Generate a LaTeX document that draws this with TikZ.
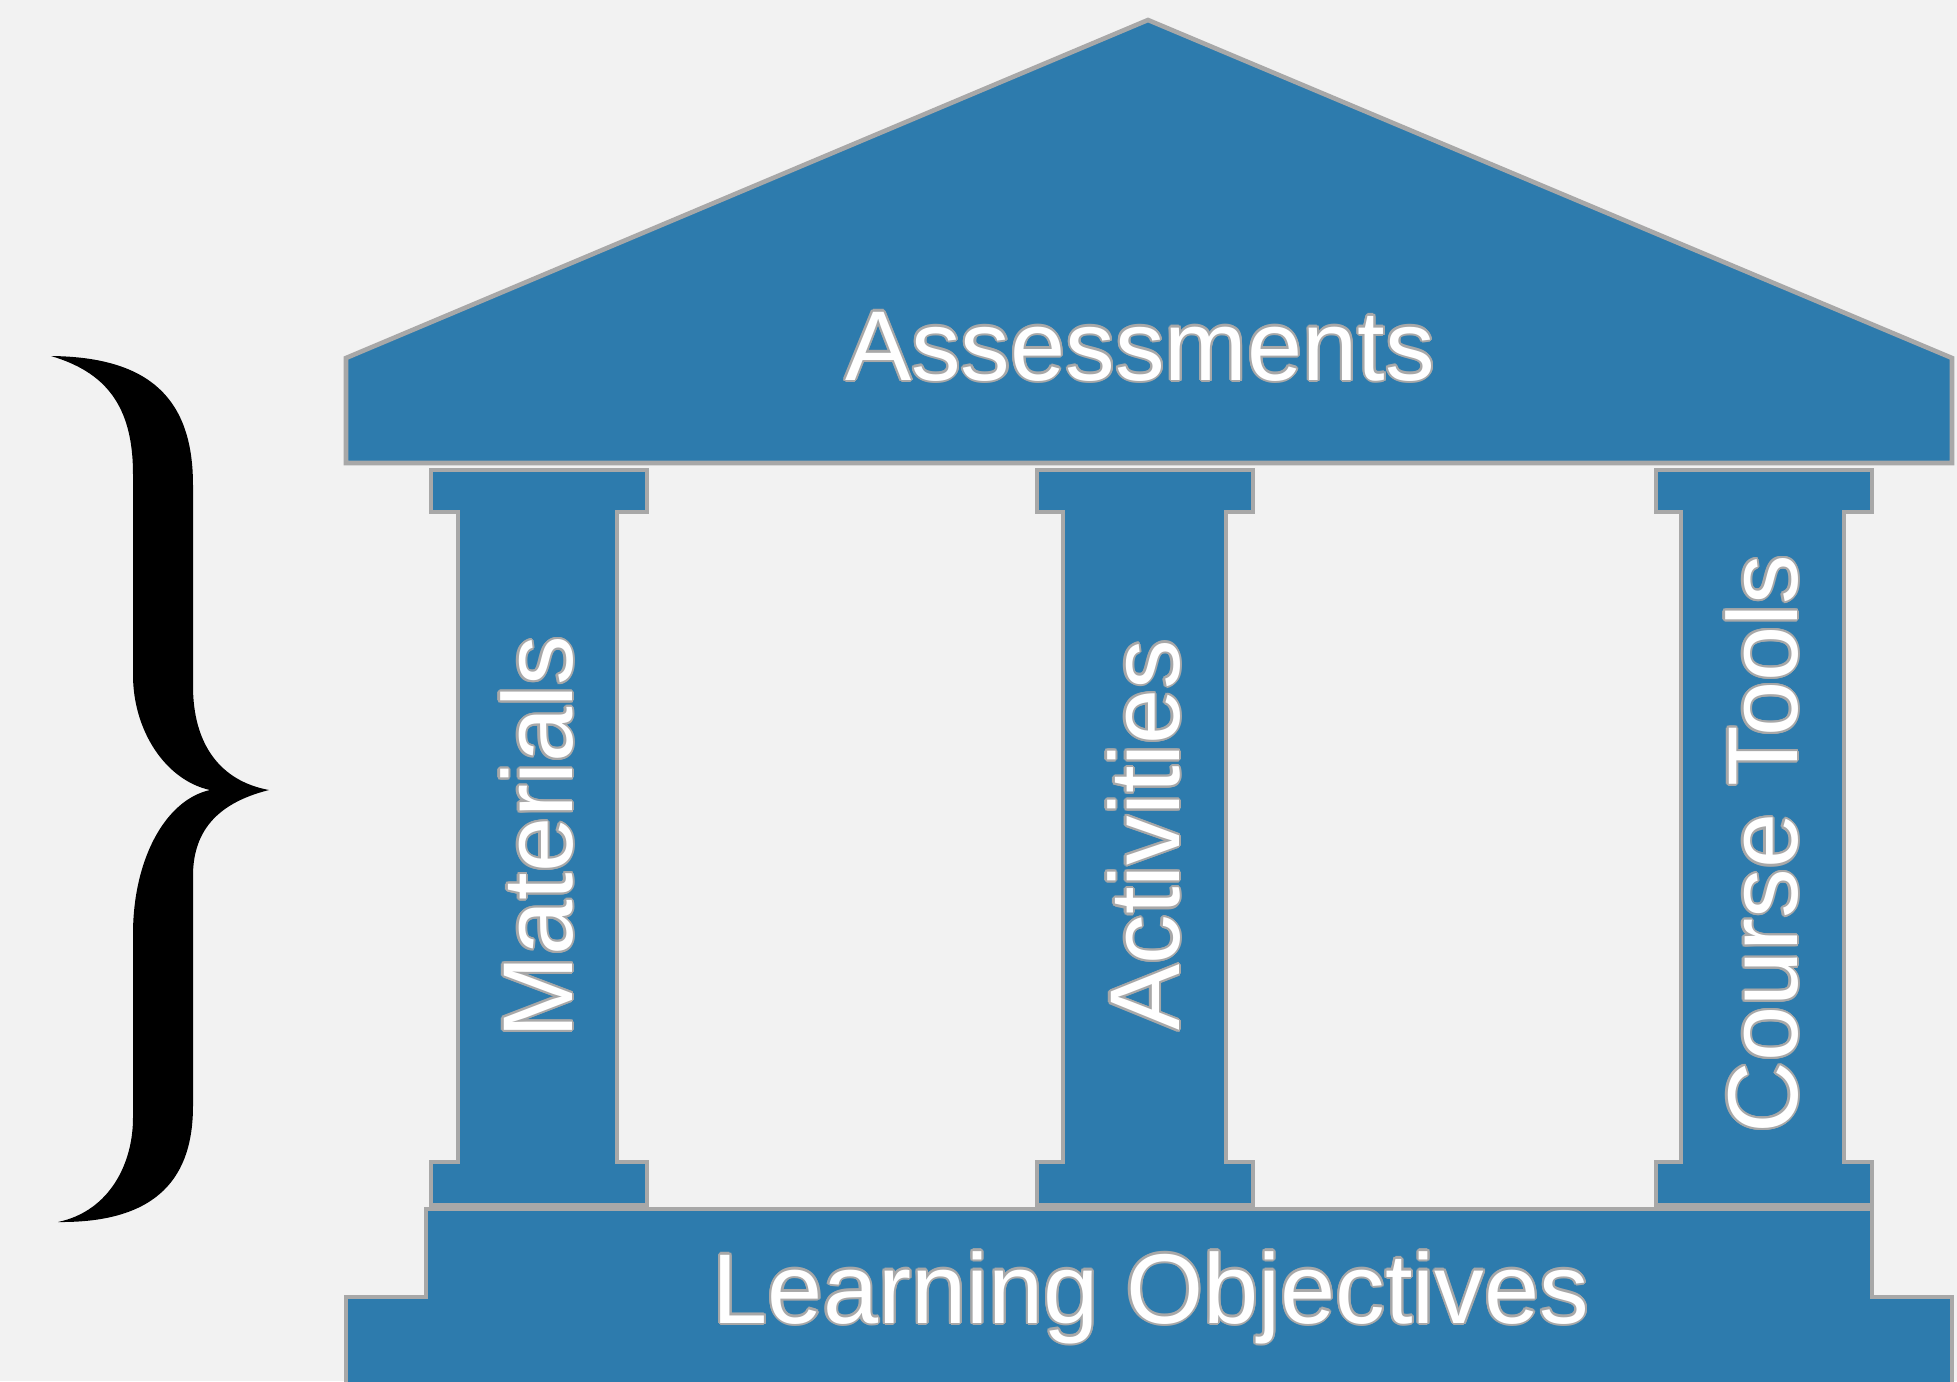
\documentclass[tikz,border=0pt]{standalone}
\usepackage{fontspec}
\setmainfont{Liberation Sans}
\usepackage{contour}
\contourlength{0.6pt}
\begin{document}
\definecolor{bg}{HTML}{F2F2F2}
\definecolor{templeblue}{HTML}{2D7BAD}
\definecolor{edge}{HTML}{A8A8A8}
\begin{tikzpicture}[x=0.01cm,y=-0.01cm,
  part/.style={fill=templeblue,draw=edge,line width=1.3pt,line join=miter},
  lbl/.style={text=white,font=\fontsize{28.2}{34}\selectfont,inner sep=0pt,anchor=base}]
% canvas
\fill[bg] (0,0) rectangle (1957,1381);
\useasboundingbox (0,0) rectangle (1957,1381);

% curly brace
\fill[black] (51,356) .. controls (150,357) and (193,399) .. (193,485)
  -- (193,686) .. controls (193,744) and (220,781) .. (269,790)
  .. controls (213,804) and (193,835) .. (193,876)
  -- (193,1106) .. controls (193,1175) and (160,1223) .. (58,1222)
  .. controls (110,1211) and (133,1163) .. (133,1118)
  -- (133,934) .. controls (133,860) and (165,800) .. (210,790)
  .. controls (165,780) and (133,730) .. (133,675)
  -- (133,474) .. controls (133,405) and (105,372) .. (51,356) -- cycle;

% roof
\draw[part] (346,358) -- (1148,20) -- (1952,358) -- (1952,463) -- (346,463) -- cycle;

% columns: capital, shaft and foot in one outline
\foreach \cl/\cr/\sl/\sr in {431/647/458/617, 1037/1253/1063/1226, 1656/1872/1681/1844}{
  \draw[part] (\cl,470) -- (\cr,470) -- (\cr,512) -- (\sr,512) -- (\sr,1162)
    -- (\cr,1162) -- (\cr,1205) -- (\cl,1205) -- (\cl,1162) -- (\sl,1162)
    -- (\sl,512) -- (\cl,512) -- cycle;
}

% stepped base
\draw[part] (426,1209) -- (1872,1209) -- (1872,1297) -- (1952,1297) -- (1952,1395)
  -- (346,1395) -- (346,1297) -- (426,1297) -- cycle;

% labels
\node[lbl] (assess) at (1140,380) {\contour{edge}{Assessments}};
\node[lbl] (objectives) at (1151,1323) {\contour{edge}{Learning Objectives}};
\node[lbl,rotate=90] (materials) at (572,837) {\contour{edge}{Materials}};
\node[lbl,rotate=90] (activities) at (1179,835) {\contour{edge}{Activities}};
\node[lbl,rotate=90] (tools) at (1797,844) {\contour{edge}{Course Tools}};
\end{tikzpicture}
\end{document}
